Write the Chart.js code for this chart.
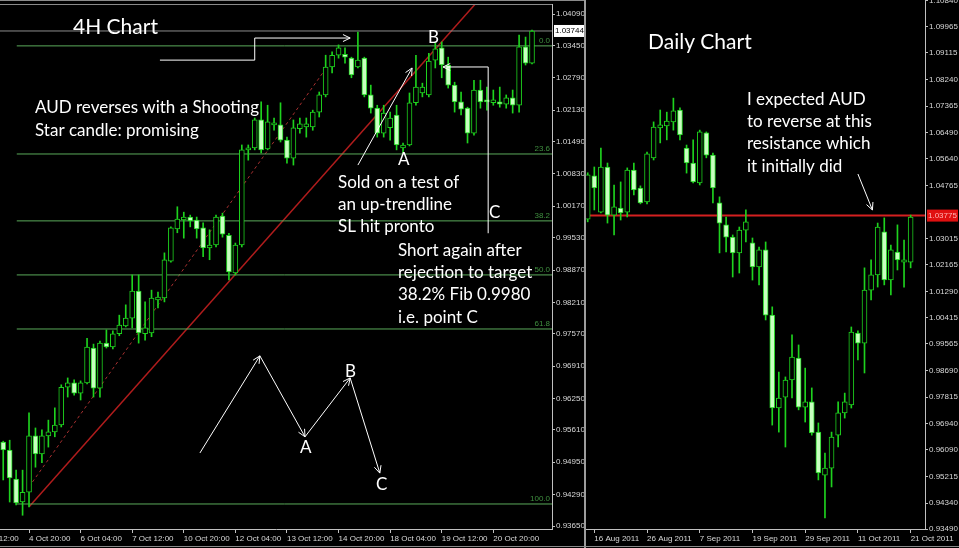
<!DOCTYPE html>
<html>
<head>
<meta charset="utf-8">
<title>AUD 4H and Daily Chart</title>
<script src="https://cdn.jsdelivr.net/npm/chart.js"></script>
<style>
  html, body { margin: 0; padding: 0; background: #000; }
  body { width: 959px; height: 548px; position: relative; overflow: hidden; }
  canvas { position: absolute; top: 0; }
  #h4Chart { left: 0; }
  #dailyChart { left: 586px; }
  .sep { position: absolute; left: 584px; top: 0; width: 2px; height: 548px; background: #9c9c9c; }
  .topline { position: absolute; left: 0; top: 0; width: 584px; height: 1px; background: #8a8a8a; }
  .botline { position: absolute; left: 0; top: 546px; width: 959px; height: 1px; background: #8a8a8a; }
</style>
</head>
<body>
<canvas id="h4Chart" width="584" height="548"></canvas>
<div class="sep"></div>
<div class="topline"></div>
<div class="botline"></div>
<canvas id="dailyChart" width="373" height="548"></canvas>
<script>
// ---- 4H candles, AUD, oldest first (index 0 = 4 Oct 04:00) ----
const h4Open = [0.9536, 0.9520, 0.9461, 0.9414, 0.9434, 0.9549, 0.9512, 0.9549, 0.9557, 0.9571,
  0.9648, 0.9657, 0.9636, 0.9657, 0.9728, 0.9646, 0.9738, 0.9730, 0.9757, 0.9773,
  0.9789, 0.9844, 0.9757, 0.9759, 0.9826, 0.9830, 0.9905, 0.9971, 0.9989, 0.9995,
  0.9989, 0.9973, 0.9932, 0.9938, 0.9997, 0.9958, 0.9881, 0.9938, 1.0132, 1.0136,
  1.0193, 1.0134, 1.0183, 1.0183, 1.0152, 1.0115, 1.0175, 1.0179, 1.0179, 1.0209,
  1.0244, 1.0301, 1.0325, 1.0327, 1.0319, 1.0301, 1.0319, 1.0244, 1.0217, 1.0166,
  1.0177, 1.0203, 1.0136, 1.0142, 1.0228, 1.0248, 1.0244, 1.0315, 1.0340, 1.0305,
  1.0264, 1.0230, 1.0217, 1.0166, 1.0254, 1.0234, 1.0228, 1.0230, 1.0225, 1.0238,
  1.0223, 1.0342, 1.0309];
const h4High = [0.9538, 0.9540, 0.9479, 0.9479, 0.9596, 0.9565, 0.9561, 0.9581, 0.9606, 0.9653,
  0.9667, 0.9663, 0.9661, 0.9748, 0.9736, 0.9742, 0.9765, 0.9763, 0.9795, 0.9816,
  0.9877, 0.9877, 0.9822, 0.9846, 0.9842, 0.9922, 0.9975, 1.0016, 1.0005, 0.9999,
  0.9995, 0.9983, 0.9969, 0.9999, 1.0003, 0.9962, 0.9942, 1.0142, 1.0142, 1.0197,
  1.0230, 1.0223, 1.0197, 1.0228, 1.0158, 1.0193, 1.0197, 1.0197, 1.0213, 1.0250,
  1.0325, 1.0332, 1.0346, 1.0340, 1.0321, 1.0372, 1.0321, 1.0264, 1.0223, 1.0223,
  1.0209, 1.0223, 1.0146, 1.0248, 1.0325, 1.0268, 1.0329, 1.0350, 1.0352, 1.0321,
  1.0270, 1.0250, 1.0219, 1.0274, 1.0274, 1.0260, 1.0254, 1.0260, 1.0244, 1.0254,
  1.0366, 1.0362, 1.0376];
const h4Low = [0.9459, 0.9414, 0.9408, 0.9387, 0.9404, 0.9485, 0.9494, 0.9526, 0.9547, 0.9567,
  0.9628, 0.9632, 0.9622, 0.9655, 0.9628, 0.9628, 0.9728, 0.9726, 0.9753, 0.9771,
  0.9769, 0.9738, 0.9744, 0.9751, 0.9810, 0.9822, 0.9903, 0.9963, 0.9952, 0.9975,
  0.9952, 0.9914, 0.9908, 0.9934, 0.9954, 0.9867, 0.9877, 0.9934, 1.0111, 1.0132,
  1.0126, 1.0132, 1.0172, 1.0148, 1.0105, 1.0101, 1.0166, 1.0158, 1.0172, 1.0199,
  1.0240, 1.0289, 1.0319, 1.0309, 1.0279, 1.0299, 1.0240, 1.0207, 1.0158, 1.0158,
  1.0152, 1.0132, 1.0126, 1.0140, 1.0223, 1.0240, 1.0240, 1.0299, 1.0279, 1.0258,
  1.0209, 1.0203, 1.0146, 1.0162, 1.0217, 1.0213, 1.0223, 1.0219, 1.0217, 1.0207,
  1.0209, 1.0305, 1.0307];
const h4Close = [0.9520, 0.9463, 0.9412, 0.9434, 0.9549, 0.9512, 0.9549, 0.9557, 0.9571, 0.9648,
  0.9657, 0.9636, 0.9657, 0.9730, 0.9646, 0.9738, 0.9730, 0.9757, 0.9775, 0.9789,
  0.9844, 0.9759, 0.9769, 0.9830, 0.9832, 0.9908, 0.9973, 0.9991, 0.9995, 0.9987,
  0.9971, 0.9932, 0.9938, 0.9995, 0.9960, 0.9883, 0.9938, 1.0132, 1.0136, 1.0193,
  1.0132, 1.0189, 1.0185, 1.0152, 1.0115, 1.0177, 1.0185, 1.0185, 1.0209, 1.0244,
  1.0301, 1.0325, 1.0340, 1.0321, 1.0285, 1.0315, 1.0244, 1.0217, 1.0166, 1.0207,
  1.0197, 1.0142, 1.0142, 1.0228, 1.0260, 1.0260, 1.0313, 1.0338, 1.0305, 1.0264,
  1.0230, 1.0215, 1.0166, 1.0254, 1.0230, 1.0230, 1.0234, 1.0225, 1.0238, 1.0223,
  1.0342, 1.0309, 1.0374];
const h4TickPos = [-4, 4, 12, 20, 28, 36, 44, 52, 60, 68, 76];
const h4TickLabels = ['3 Oct 12:00', '4 Oct 20:00', '6 Oct 04:00', '7 Oct 12:00', '10 Oct 20:00',
  '12 Oct 04:00', '13 Oct 12:00', '14 Oct 20:00', '18 Oct 04:00', '19 Oct 12:00', '20 Oct 20:00'];
const h4PriceTicks = [1.04090, 1.03450, 1.02790, 1.02130, 1.01490, 1.00830, 1.00170, 0.99530,
  0.98870, 0.98210, 0.97570, 0.96910, 0.96250, 0.95610, 0.94950, 0.94290, 0.93650];
const h4Current = 1.03744;
const fibHigh = 1.0344, fibLow = 0.9410;
const fibRatios = [0, 23.6, 38.2, 50, 61.8, 100];
const trendSolid = [[4.05, 0.9405], [75, 1.0456]];
const trendDashed = [[4.0, 0.9445], [50.2, 1.0301]];

// ---- Daily candles, index 0 = 16 Aug 2011 ----
const dOpen = [1.0366, 1.0508, 1.0389, 1.0537, 1.0379, 1.0402, 1.0389, 1.0527, 1.0468, 1.0422,
  1.0567, 1.0665, 1.0672, 1.0685, 1.0724, 1.0599, 1.0550, 1.0485, 1.0649, 1.0576,
  1.0419, 1.0347, 1.0307, 1.0255, 1.0330, 1.0288, 1.0209, 1.0265, 1.0051, 0.9746,
  0.9782, 0.9838, 0.9910, 0.9749, 0.9766, 0.9667, 0.9526, 0.9549, 0.9657, 0.9730,
  0.9756, 0.9992, 0.9959, 1.0133, 1.0183, 1.0324, 1.0166, 1.0258, 1.0225, 1.0225];
const dHigh = [1.0518, 1.0537, 1.0599, 1.0550, 1.0478, 1.0488, 1.0534, 1.0550, 1.0475, 1.0586,
  1.0685, 1.0724, 1.0717, 1.0763, 1.0731, 1.0609, 1.0626, 1.0658, 1.0652, 1.0583,
  1.0439, 1.0373, 1.0314, 1.0340, 1.0396, 1.0304, 1.0274, 1.0291, 1.0078, 0.9864,
  0.9848, 0.9986, 0.9953, 0.9877, 0.9812, 0.9697, 0.9598, 0.9667, 0.9766, 0.9795,
  1.0012, 0.9999, 1.0206, 1.0232, 1.0353, 1.0370, 1.0281, 1.0347, 1.0297, 1.0379];
const dLow = [1.0357, 1.0396, 1.0386, 1.0353, 1.0314, 1.0363, 1.0373, 1.0445, 1.0416, 1.0416,
  1.0560, 1.0616, 1.0626, 1.0658, 1.0626, 1.0517, 1.0485, 1.0478, 1.0567, 1.0419,
  1.0255, 1.0258, 1.0176, 1.0189, 1.0291, 1.0166, 1.0150, 1.0035, 0.9690, 0.9667,
  0.9618, 0.9779, 0.9740, 0.9700, 0.9657, 0.9510, 0.9385, 0.9487, 0.9618, 0.9713,
  0.9746, 0.9904, 0.9861, 1.0101, 1.0143, 1.0150, 1.0117, 1.0199, 1.0143, 1.0206];
const dClose = [1.0511, 1.0468, 1.0537, 1.0379, 1.0406, 1.0386, 1.0527, 1.0462, 1.0419, 1.0580,
  1.0668, 1.0675, 1.0688, 1.0721, 1.0642, 1.0550, 1.0488, 1.0652, 1.0576, 1.0468,
  1.0353, 1.0307, 1.0255, 1.0330, 1.0357, 1.0209, 1.0265, 1.0051, 0.9746, 0.9779,
  0.9838, 0.9913, 0.9749, 0.9766, 0.9664, 0.9533, 0.9549, 0.9651, 0.9730, 0.9766,
  0.9995, 0.9959, 1.0133, 1.0183, 1.0340, 1.0166, 1.0265, 1.0232, 1.0232, 1.0373];
const dTickPos = [0, 8, 16, 24, 32, 40, 48];
const dTickLabels = ['16 Aug 2011', '26 Aug 2011', '7 Sep 2011', '19 Sep 2011', '29 Sep 2011',
  '11 Oct 2011', '21 Oct 2011'];
const dPriceTicks = [1.10840, 1.09965, 1.09115, 1.08240, 1.07365, 1.06490, 1.05640, 1.04765,
  1.03015, 1.02165, 1.01290, 1.00415, 0.99565, 0.98690, 0.97815, 0.96940, 0.96090, 0.95215,
  0.94340, 0.93490];
const resistance = 1.03775;

// ---- annotations ----
const h4Notes = [
  { text: '4H Chart', x: 73, y: 34, size: 21 },
  { text: 'AUD reverses with a Shooting', x: 35, y: 113 },
  { text: 'Star candle: promising', x: 35, y: 136 },
  { text: 'B', x: 428, y: 43 },
  { text: 'A', x: 398, y: 165 },
  { text: 'Sold on a test of', x: 338, y: 188 },
  { text: 'an up-trendline', x: 338, y: 210 },
  { text: 'SL hit pronto', x: 338, y: 232 },
  { text: 'C', x: 489, y: 218 },
  { text: 'Short again after', x: 398, y: 256 },
  { text: 'rejection to target', x: 398, y: 278 },
  { text: '38.2% Fib 0.9980', x: 398, y: 300 },
  { text: 'i.e. point C', x: 398, y: 323 },
  { text: 'B', x: 345, y: 377 },
  { text: 'A', x: 300, y: 453 },
  { text: 'C', x: 376, y: 490 }
];
// arrows in (candle index, price)
const h4Arrows = [
  [[24.3, 1.0315], [39.0, 1.0315], [39.0, 1.0360], [53.8, 1.0360]],
  [[55.0, 1.0101], [63.4, 1.0299]],
  [[75.2, 0.9962], [75.2, 1.0301], [68.2, 1.0301]],
  [[30.5, 0.9514], [39.8, 0.9712]],
  [[39.8, 0.9712], [46.8, 0.9547]],
  [[46.8, 0.9547], [53.8, 0.9667]],
  [[53.8, 0.9667], [58.4, 0.9473]]
];
const dNotes = [
  { text: 'Daily Chart', x: 62, y: 49, size: 21 },
  { text: 'I expected AUD', x: 161, y: 105 },
  { text: 'to reverse at this', x: 161, y: 127 },
  { text: 'resistance which', x: 161, y: 149 },
  { text: 'it initially did', x: 161, y: 172 }
];
const dArrows = [[[40.0, 1.0514], [42.2, 1.0396]]];

const GREEN = '#1ed21e';
const BEAR_FILL = '#c8ffc0';
const AXIS_TEXT = '#d8d8d8';
const AXIS_LINE = '#c0c0c0';
const AXIS_FONT = { family: '"Liberation Sans", Arial, sans-serif', size: 8 };
const NOTE_FONT = 'Lato, "Open Sans", sans-serif';

function candleSets(open, high, low, close, first) {
  const bodies = [], wicks = [], fills = [];
  for (let k = 0; k < open.length; k++) {
    const x = first + k;
    bodies.push({ x: x, y: [Math.min(open[k], close[k]), Math.max(open[k], close[k])] });
    wicks.push({ x: x, y: [low[k], high[k]] });
    fills.push(close[k] < open[k] ? BEAR_FILL : '#000000');
  }
  return [
    { type: 'bar', data: bodies, backgroundColor: fills, borderColor: GREEN, borderWidth: 1,
      borderSkipped: false, barThickness: 5, minBarLength: 2, grouped: false, order: 1 },
    { type: 'bar', data: wicks, backgroundColor: GREEN, borderWidth: 0,
      barThickness: 1, grouped: false, order: 2 }
  ];
}

function line(points, color, width, dash) {
  return { type: 'line', data: points.map(p => ({ x: p[0], y: p[1] })), borderColor: color,
    borderWidth: width, borderDash: dash || [], pointRadius: 0, fill: false, tension: 0, order: 3 };
}

function drawArrow(ctx, pts, xs, ys) {
  const px = pts.map(p => [xs.getPixelForValue(p[0]), ys.getPixelForValue(p[1])]);
  ctx.beginPath();
  px.forEach((p, k) => k ? ctx.lineTo(p[0], p[1]) : ctx.moveTo(p[0], p[1]));
  const [x1, y1] = px[px.length - 2], [x2, y2] = px[px.length - 1];
  const a = Math.atan2(y2 - y1, x2 - x1);
  [-0.45, 0.45].forEach(s => {
    ctx.moveTo(x2, y2);
    ctx.lineTo(x2 - 8 * Math.cos(a + s), y2 - 8 * Math.sin(a + s));
  });
  ctx.stroke();
}

function drawNotes(ctx, notes) {
  ctx.fillStyle = '#ffffff';
  ctx.textAlign = 'left';
  ctx.textBaseline = 'alphabetic';
  notes.forEach(n => {
    ctx.font = (n.size || 17) + 'px ' + NOTE_FONT;
    ctx.fillText(n.text, n.x, n.y);
  });
}

function priceBox(ctx, area, y, value, bg, fg) {
  ctx.fillStyle = bg;
  ctx.fillRect(area.right + 2, y - 6, 31, 12);
  ctx.fillStyle = fg;
  ctx.font = AXIS_FONT.size + 'px ' + AXIS_FONT.family;
  ctx.textAlign = 'left';
  ctx.textBaseline = 'middle';
  ctx.fillText(value.toFixed(5), area.right + 3, y);
}

function makeChart(id, o) {
  return new Chart(document.getElementById(id), {
    type: 'bar',
    data: { datasets: candleSets(o.open, o.high, o.low, o.close, o.first).concat(o.lines) },
    options: {
      responsive: false,
      animation: false,
      events: [],
      layout: { padding: { top: o.padTop, left: 0, right: 0, bottom: 0 } },
      plugins: { legend: { display: false }, tooltip: { enabled: false } },
      scales: {
        x: {
          type: 'linear', min: o.xMin, max: o.xMax, bounds: 'data', offset: false,
          afterBuildTicks: s => { s.ticks = o.xTicks.map(v => ({ value: v })); },
          afterFit: s => { s.height = 19; s.paddingLeft = 0; s.paddingRight = 0; },
          ticks: { callback: (v, k) => o.xLabels[k], align: 'start', autoSkip: false, maxRotation: 0,
            padding: 1, color: AXIS_TEXT, font: AXIS_FONT },
          grid: { drawOnChartArea: false, tickLength: 4, color: AXIS_LINE, offset: false },
          border: { color: AXIS_LINE }
        },
        y: {
          position: 'right', min: o.yMin, max: o.yMax, bounds: 'data',
          afterBuildTicks: s => { s.ticks = o.yTicks.map(v => ({ value: v })); },
          afterFit: s => { s.width = o.axisW; s.paddingTop = 0; s.paddingBottom = 0; },
          ticks: { callback: v => v.toFixed(5), padding: 1, color: AXIS_TEXT, font: AXIS_FONT },
          grid: { drawOnChartArea: false, tickLength: 3, color: AXIS_LINE },
          border: { color: AXIS_LINE }
        }
      }
    },
    plugins: [o.overlay]
  });
}

const fibLevel = r => fibHigh - (fibHigh - fibLow) * r / 100;
const h4XMin = -0.5, h4XMax = 85.1;

makeChart('h4Chart', {
  open: h4Open, high: h4High, low: h4Low, close: h4Close, first: 0,
  xMin: h4XMin, xMax: h4XMax, yMin: 0.93590, yMax: 1.04294, padTop: 4, axisW: 32,
  xTicks: h4TickPos, xLabels: h4TickLabels, yTicks: h4PriceTicks,
  lines: fibRatios.map(r => line([[2.1, fibLevel(r)], [h4XMax, fibLevel(r)]], '#5aaa5a', 1))
    .concat([
      line([[h4XMin, h4Current], [h4XMax, h4Current]], '#8c8c8c', 1),
      line(trendSolid, '#b01c1c', 1.5),
      line(trendDashed, '#a83030', 1, [3, 3])
    ]),
  overlay: {
    id: 'h4Overlay',
    afterDraw(chart) {
      const { ctx, chartArea: a, scales: { x, y } } = chart;
      ctx.save();
      ctx.strokeStyle = '#8a8a8a';
      ctx.lineWidth = 1;
      ctx.beginPath();
      ctx.moveTo(0, a.top + 0.5);
      ctx.lineTo(a.right, a.top + 0.5);
      ctx.stroke();
      ctx.font = '8px ' + AXIS_FONT.family;
      ctx.fillStyle = '#3f8f3f';
      ctx.textAlign = 'right';
      ctx.textBaseline = 'bottom';
      fibRatios.forEach(r => ctx.fillText(r.toFixed(1), a.right - 2, y.getPixelForValue(fibLevel(r)) - 1));
      priceBox(ctx, a, y.getPixelForValue(h4Current), h4Current, '#ffffff', '#000000');
      ctx.strokeStyle = '#ffffff';
      ctx.lineWidth = 1;
      h4Arrows.forEach(p => drawArrow(ctx, p, x, y));
      drawNotes(ctx, h4Notes);
      ctx.restore();
    }
  }
});

const dXMin = -1.26, dXMax = 50.18;

makeChart('dailyChart', {
  open: dOpen, high: dHigh, low: dLow, close: dClose, first: -1,
  xMin: dXMin, xMax: dXMax, yMin: 0.93490, yMax: 1.10850, padTop: 0, axisW: 34,
  xTicks: dTickPos, xLabels: dTickLabels, yTicks: dPriceTicks,
  lines: [line([[dXMin, resistance], [dXMax, resistance]], '#d42020', 2)],
  overlay: {
    id: 'dailyOverlay',
    afterDraw(chart) {
      const { ctx, chartArea: a, scales: { x, y } } = chart;
      ctx.save();
      priceBox(ctx, a, y.getPixelForValue(resistance), resistance, '#e01010', '#ffb4b4');
      ctx.strokeStyle = '#ffffff';
      ctx.lineWidth = 1;
      dArrows.forEach(p => drawArrow(ctx, p, x, y));
      drawNotes(ctx, dNotes);
      ctx.restore();
    }
  }
});
</script>
</body>
</html>
